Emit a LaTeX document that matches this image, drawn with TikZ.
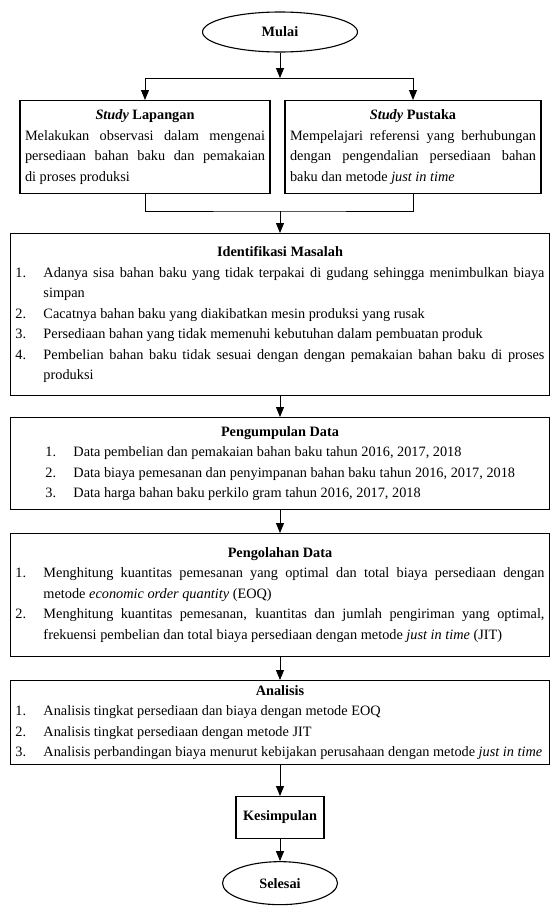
\documentclass[tikz,border=0pt]{standalone}
\usepackage{fontspec}
\setmainfont{Liberation Serif}
\usepackage{tikz}
\usetikzlibrary{shapes.geometric,arrows.meta,positioning}
\tikzset{
    flow-box/.style = {draw=black, line width=1.1pt, rectangle, inner xsep=5pt, inner ysep=3pt, align=justify, font={\fontsize{14.3}{20.5}\selectfont\parindent=0pt}},
    flow-oval/.style = {draw=black, line width=1.1pt, ellipse, inner sep=0pt, font={\fontsize{14.3}{17}\selectfont\bfseries}},
    flow-arrow/.style = {draw=black, line width=0.9pt, -{Triangle[length=10pt,width=8pt]}},
    flow-line/.style = {draw=black, line width=0.9pt},
}
% numbered line with hanging indent (set \leftskip first)
\newcommand{\numitem}[2]{\par\noindent\hspace*{-28pt}\makebox[28pt][l]{#1.}#2}

\begin{document}
\begin{tikzpicture}[x=1pt,y=-1pt]
\useasboundingbox (0,0) rectangle (551,908);

\node [flow-oval, minimum width=155pt, minimum height=40pt] (mulai) at (280,32) {Mulai};
\coordinate (split) at (280,78);

\node [flow-box, text width=240pt, minimum height=93pt, anchor=north] (lapangan) at (145,100) {%
\centerline{\textbf{\textit{Study} Lapangan}}\par
Melakukan observasi dalam mengenai \linebreak persediaan bahan baku dan pemakaian \linebreak di proses produksi};
\node [flow-box, text width=246pt, minimum height=93pt, anchor=north] (pustaka) at (413,100) {%
\centerline{\textbf{\textit{Study} Pustaka}}\par
Mempelajari referensi yang berhubungan \linebreak dengan pengendalian persediaan bahan \linebreak baku dan metode \textit{just in time}};
\coordinate (join) at (280,211);

\node [flow-box, text width=529pt, minimum height=162pt, anchor=north] (identifikasi) at (280,233) {%
\centerline{\textbf{Identifikasi Masalah}}\par
\leftskip=28pt
\numitem{1}{Adanya sisa bahan baku yang tidak terpakai di gudang sehingga menimbulkan biaya \linebreak simpan}
\numitem{2}{Cacatnya bahan baku yang diakibatkan mesin produksi yang rusak}
\numitem{3}{Persediaan bahan yang tidak memenuhi kebutuhan dalam pembuatan produk}
\numitem{4}{Pembelian bahan baku tidak sesuai dengan dengan pemakaian bahan baku di proses \linebreak produksi}\par};

\node [flow-box, text width=529pt, minimum height=92pt, anchor=north] (pengumpulan) at (280,417) {%
\centerline{\textbf{Pengumpulan Data}}\par
\leftskip=58pt
\numitem{1}{Data pembelian dan pemakaian bahan baku tahun 2016, 2017, 2018}
\numitem{2}{Data biaya pemesanan dan penyimpanan bahan baku tahun 2016, 2017, 2018}
\numitem{3}{Data harga bahan baku perkilo gram tahun 2016, 2017, 2018}\par};

\node [flow-box, text width=529pt, minimum height=123pt, anchor=north] (pengolahan) at (280,533) {%
\centerline{\textbf{Pengolahan Data}}\par
\leftskip=28pt
\numitem{1}{Menghitung kuantitas pemesanan yang optimal dan total biaya persediaan dengan \linebreak metode \textit{economic order quantity} (EOQ)}
\numitem{2}{Menghitung kuantitas pemesanan, kuantitas dan jumlah pengiriman yang optimal, \linebreak frekuensi pembelian dan total biaya persediaan dengan metode \textit{just in time} (JIT)}\par};

\node [flow-box, text width=529pt, minimum height=84pt, anchor=north] (analisis) at (280,680) {%
\centerline{\textbf{Analisis}}\par
\leftskip=28pt
\numitem{1}{Analisis tingkat persediaan dan biaya dengan metode EOQ}
\numitem{2}{Analisis tingkat persediaan dengan metode JIT}
\numitem{3}{Analisis perbandingan biaya menurut kebijakan perusahaan dengan metode \textit{just in time}}\par};

\node [flow-box, align=center, minimum width=88pt, minimum height=42pt, anchor=north, font={\fontsize{14.3}{17}\selectfont\bfseries}] (kesimpulan) at (280,796) {Kesimpulan};
\node [flow-oval, minimum width=115pt, minimum height=43pt, below=22pt of kesimpulan] (selesai) {Selesai};

% connectors
\draw [flow-arrow] (mulai) -- (split);
\draw [flow-arrow] (split) -| (lapangan);
\draw [flow-arrow] (split) -| (pustaka);
\draw [flow-line] (lapangan) |- (join) -| (pustaka);
\draw [flow-arrow] (join) -- (identifikasi);
\draw [flow-arrow] (identifikasi) -- (pengumpulan);
\draw [flow-arrow] (pengumpulan) -- (pengolahan);
\draw [flow-arrow] (pengolahan) -- (analisis);
\draw [flow-arrow] (analisis) -- (kesimpulan);
\draw [flow-arrow] (kesimpulan) -- (selesai);
\end{tikzpicture}
\end{document}
